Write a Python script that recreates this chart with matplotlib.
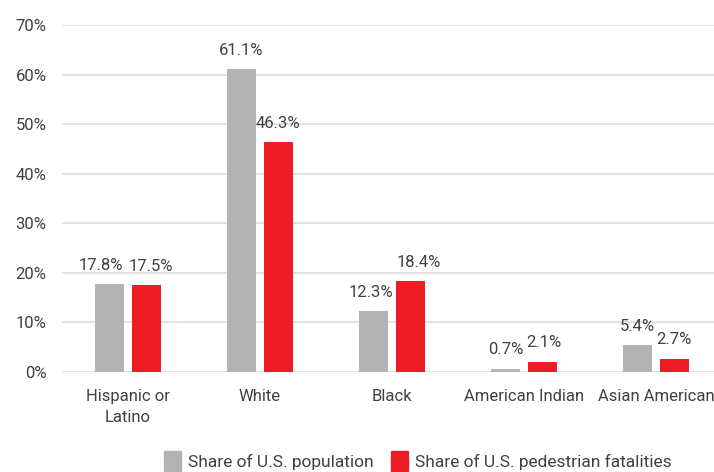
import numpy as np
import matplotlib.pyplot as plt
from matplotlib.patches import Patch

# Share of population vs share of pedestrian fatalities by race/ethnicity
groups = ["Hispanic or\nLatino", "White", "Black", "American Indian", "Asian American"]
population = [17.8, 61.1, 12.3, 0.7, 5.4]
fatalities = [17.5, 46.3, 18.4, 2.1, 2.7]
yticks = [0, 10, 20, 30, 40, 50, 60, 70]

# small sideways nudges (points) so neighbouring value labels don't collide
pop_nudge = [-6, 0, -2, 0, 0]
fat_nudge = [3, 0, 6, 1, 0]

grey = "#b3b3b3"
red = "#ee1c25"
txt = "#404040"

plt.rcParams['font.family'] = ['Roboto', 'DejaVu Sans']

fig = plt.figure(figsize=(7.14, 4.72), dpi=100)
ax = fig.add_axes([0.0868, 0.2119, 0.9132, 0.7352])

x = np.arange(len(groups))
w = 0.22
off = 0.14
b1 = ax.bar(x - off, population, w, color=grey, zorder=3)
b2 = ax.bar(x + off, fatalities, w, color=red, zorder=3)

for bars, vals, nudge in ((b1, population, pop_nudge), (b2, fatalities, fat_nudge)):
    for b, v, dx in zip(bars, vals, nudge):
        ax.annotate("{:.1f}%".format(v), (b.get_x() + b.get_width() / 2, v),
                    xytext=(dx, 8), textcoords="offset points",
                    ha="center", va="bottom", fontsize=12, color=txt)

ax.set_xlim(-0.5, 4.44)
ax.set_ylim(0, 70)
ax.set_yticks(yticks)
ax.set_yticklabels(["{}%".format(t) for t in yticks])
ax.set_xticks(x)
ax.set_xticklabels(groups, linespacing=1.5)
ax.tick_params(axis="both", length=0, labelsize=12, labelcolor=txt)
ax.tick_params(axis="y", pad=11)
ax.tick_params(axis="x", pad=12)
ax.yaxis.grid(True, color="#dddddd", linewidth=1.2, zorder=0)
for s in ax.spines.values():
    s.set_visible(False)

handles = [Patch(color=grey, label="Share of U.S. population"),
           Patch(color=red, label="Share of U.S. pedestrian fatalities")]
fig.legend(handles=handles, loc="center", bbox_to_anchor=(0.585, 0.023),
           ncol=2, frameon=False, fontsize=12.5, labelcolor=txt,
           handlelength=1.0, handleheight=1.4, handletextpad=0.4,
           columnspacing=1.0)

fig.savefig("out.png", dpi=100)
